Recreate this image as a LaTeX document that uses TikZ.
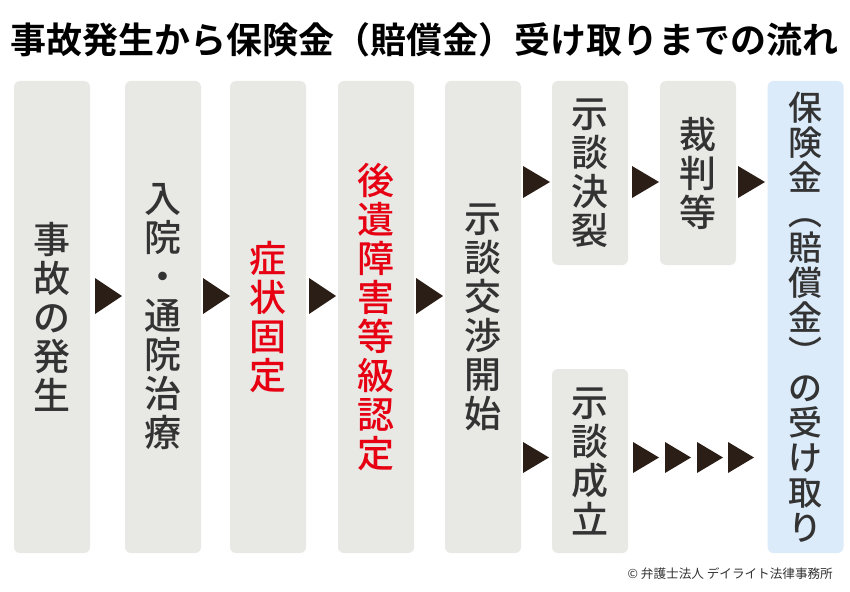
\documentclass[tikz,border=0pt]{standalone}
\usepackage{fontspec}
\setmainfont{Noto Sans CJK JP}[BoldFont=* Bold]
\newfontfamily\jpmed{Noto Sans CJK JP}[UprightFont=* Medium]
\usepackage{tikz}
\definecolor{boxgray}{HTML}{E8E8E5}
\definecolor{boxblue}{HTML}{DCEBFA}
\definecolor{txtgray}{HTML}{333333}
\definecolor{hlred}{HTML}{E60012}
\definecolor{tridark}{HTML}{2B1E17}
\newcommand\vparen[1]{\rotatebox[origin=c]{-90}{#1}}
\tikzset{
  stage/.style={fill=boxgray, rounded corners=6pt, inner sep=0pt, minimum width=76pt,
    text=txtgray, align=center, font=\jpmed\fontsize{37}{39}\selectfont},
  tall/.style={stage, minimum height=472pt},
  short/.style={stage, minimum height=184pt},
  goal/.style={tall, fill=boxblue, font=\jpmed\fontsize{34}{35}\selectfont},
  keyred/.style={text=hlred},
  tri/.style={fill=tridark},
}

\begin{document}
\begin{tikzpicture}[x=1pt,y=-1pt]
\useasboundingbox[fill=white] (0,0) rectangle (850,591);
% title
\node[font=\bfseries\fontsize{36}{36}\selectfont, anchor=west, inner sep=0pt] (title) at (10,40)
  {事故発生から保険金（賠償金）受け取りまでの流れ};
% main row, boxes 76 wide, 81..553
\node[tall] (accident) at (52,317) {事\\故\\の\\発\\生};
\node[tall] (treatment) at (163,317) {入\\院\\・\\通\\院\\治\\療};
\node[tall, keyred] (fixed) at (268,317) {症\\状\\固\\定};
\node[tall, keyred] (grade) at (376,317) {後\\遺\\障\\害\\等\\級\\認\\定};
\node[tall] (talks) at (483,317) {示\\談\\交\\渉\\開\\始};
% branches
\node[short] (broken) at (590,173) {示\\談\\決\\裂};
\node[short] (court) at (698,173) {裁\\判\\等};
\node[short] (settled) at (590,461) {示\\談\\成\\立};
\node[goal] (payout) at (805.5,317)
  {保\\険\\金\\\vparen{（}\\賠\\償\\金\\\vparen{）}\\の\\受\\け\\取\\り};
% triangles between steps
\foreach \x in {95,203,309,416}
  \fill[tri] (\x,278) -- (\x+27,296) -- (\x,314) -- cycle;
\foreach \x in {523,632,738}
  \fill[tri] (\x,166) -- (\x+27,182) -- (\x,198) -- cycle;
\foreach \x in {523,633,665,697,728}
  \fill[tri] (\x,442) -- (\x+26,457.5) -- (\x,473) -- cycle;
% credit
\node[font=\fontsize{12.6}{13}\selectfont, text=txtgray, anchor=east, inner sep=0pt] (credit) at (833,574)
  {© 弁護士法人 デイライト法律事務所};
\end{tikzpicture}
\end{document}
